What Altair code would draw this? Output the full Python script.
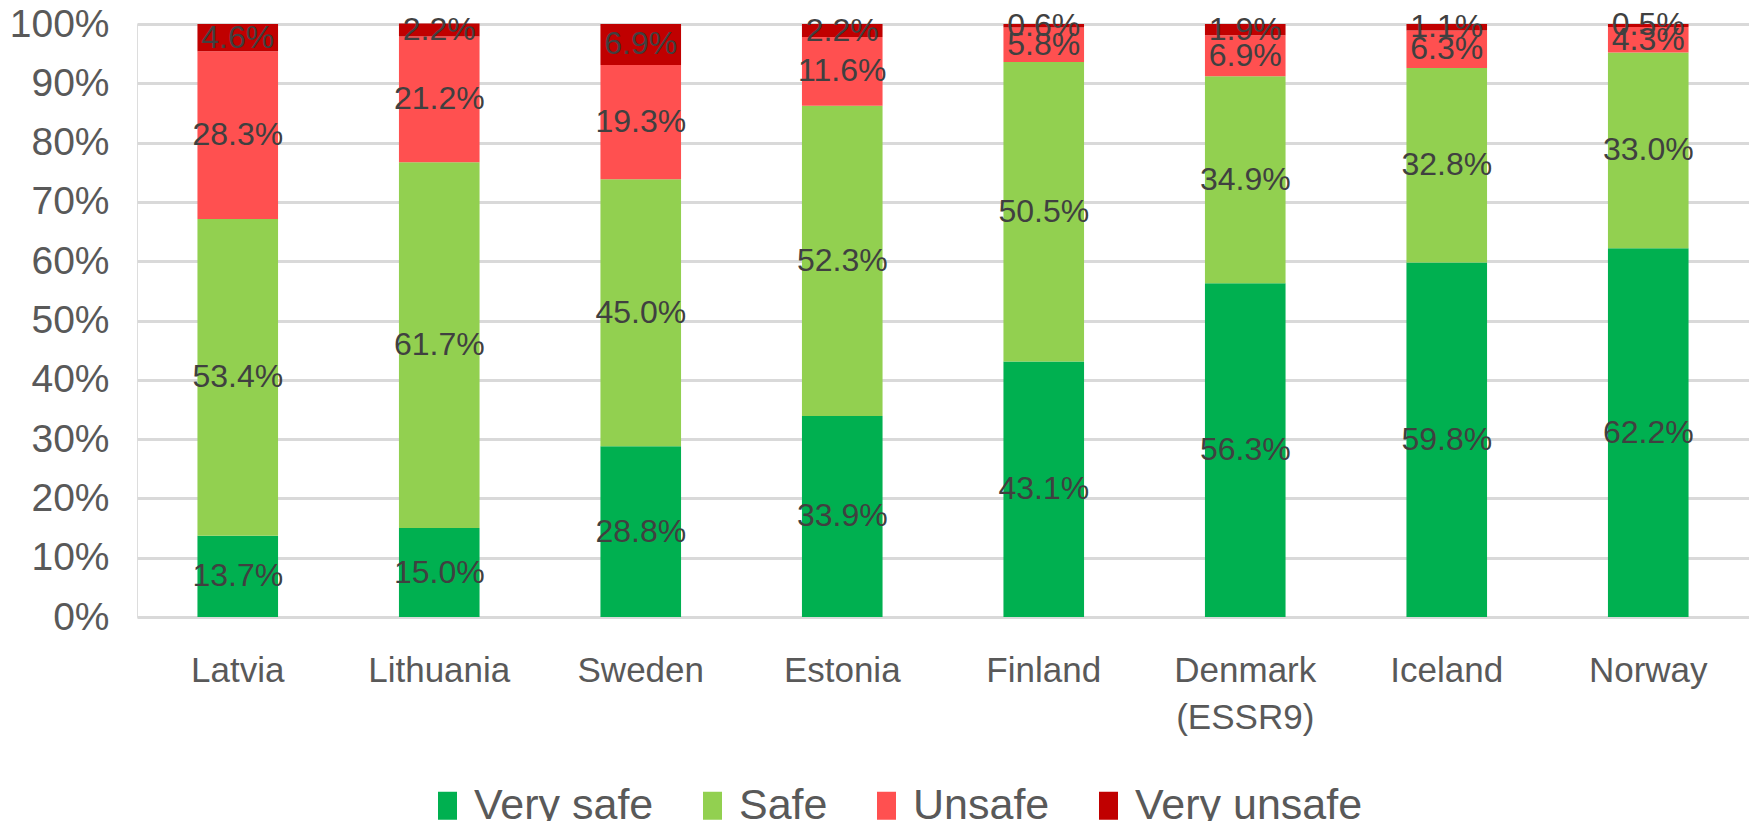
import altair as alt
import pandas as pd

countries = ["Latvia", "Lithuania", "Sweden", "Estonia", "Finland", "Denmark (ESSR9)", "Iceland", "Norway"]
categories = ["Very safe", "Safe", "Unsafe", "Very unsafe"]
very_safe = [13.7, 15.0, 28.8, 33.9, 43.1, 56.3, 59.8, 62.2]
safe = [53.4, 61.7, 45.0, 52.3, 50.5, 34.9, 32.8, 33.0]
unsafe = [28.3, 21.2, 19.3, 11.6, 5.8, 6.9, 6.3, 4.3]
very_unsafe = [4.6, 2.2, 6.9, 2.2, 0.6, 1.9, 1.1, 0.5]
colors = ["#00B050", "#92D050", "#FF5050", "#C00000"]
y_ticks = [0, 10, 20, 30, 40, 50, 60, 70, 80, 90, 100]

series = [very_safe, safe, unsafe, very_unsafe]
rows = []
for ci, (cat, vals) in enumerate(zip(categories, series)):
    for country, v in zip(countries, vals):
        rows.append({"country": country, "category": cat, "order": ci, "value": v})
df = pd.DataFrame(rows)

FONT = "Liberation Sans"

base = alt.Chart(df).transform_stack(
    stack="value", groupby=["country"], sort=[alt.SortField("order", "ascending")], as_=["y0", "y1"]
).transform_calculate(
    mid="(datum.y0 + datum.y1) / 2",
    label="format(datum.value, '.1f') + '%'",
)

x_enc = alt.X(
    "country:N",
    sort=countries,
    title=None,
    scale=alt.Scale(paddingInner=0.6, paddingOuter=0.3),
    axis=alt.Axis(
        labelAngle=0,
        labelExpr="split(datum.label, ' ')",
        labelFont=FONT,
        labelFontSize=35,
        labelColor="#595959",
        labelPadding=36,
        labelLineHeight=47,
        labelBaseline="top",
        ticks=False,
        domain=False,
        grid=False,
    ),
)

bars = base.mark_bar().encode(
    x=x_enc,
    y=alt.Y(
        "y0:Q",
        title=None,
        scale=alt.Scale(domain=[0, 100], nice=False),
        axis=alt.Axis(
            values=y_ticks,
            labelExpr="datum.value + '%'",
            labelFont=FONT,
            labelFontSize=39,
            labelColor="#595959",
            labelPadding=28,
            ticks=False,
            domain=False,
            grid=True,
            gridColor="#D9D9D9",
            gridWidth=3,
        ),
    ),
    y2="y1:Q",
    color=alt.Color(
        "category:N",
        scale=alt.Scale(domain=categories, range=colors),
        sort=categories,
        legend=alt.Legend(
            title=None,
            orient="none",
            direction="horizontal",
            legendX=289,
            legendY=760,
            symbolType="M-0.68,-1L0.68,-1L0.68,1L-0.68,1Z",
            symbolSize=784,
            symbolStrokeWidth=0,
            labelFont=FONT,
            labelFontSize=43,
            labelColor="#595959",
            labelLimit=0,
            labelOffset=5,
            columnPadding=37,
        ),
    ),
)

texts = base.mark_text(
    font=FONT, fontSize=32, color="#404040", align="center", baseline="middle"
).encode(
    x=alt.X("country:N", sort=countries),
    y=alt.Y("mid:Q"),
    text="label:N",
)

chart = alt.layer(bars, texts).properties(
    width=1612,
    height=593,
    autosize=alt.AutoSizeParams(type="none"),
    padding={"left": 129, "top": 16, "right": 0, "bottom": 204},
).configure_view(stroke=None).configure(background="white")

chart.save("out.html", embed_options={"renderer": "svg", "actions": False})
